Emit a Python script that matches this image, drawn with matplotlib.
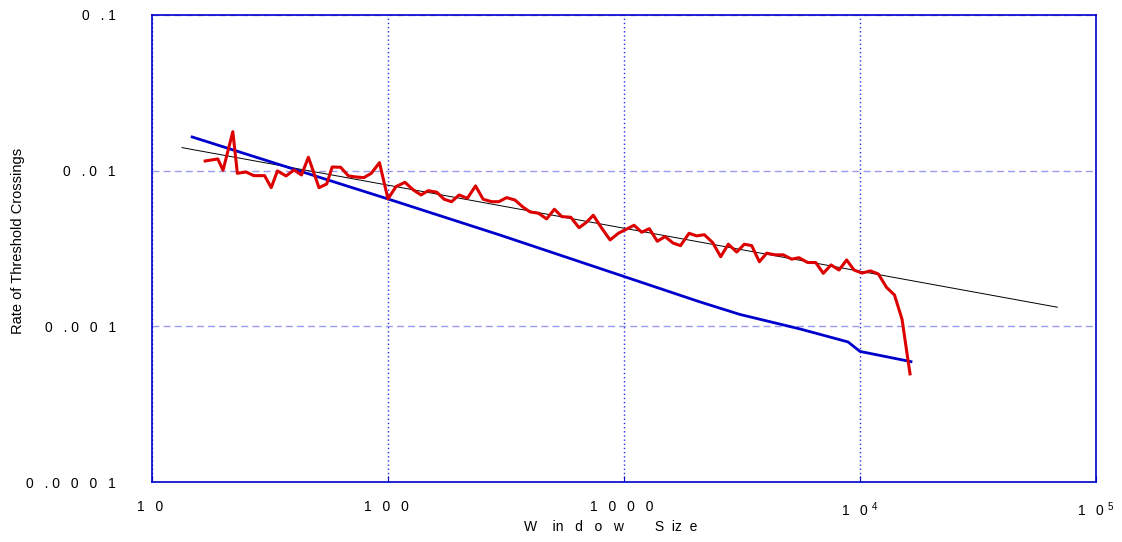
import matplotlib
matplotlib.use('Agg')
import matplotlib.pyplot as plt
from matplotlib.ticker import NullLocator

plt.rcParams['font.family'] = ['Liberation Sans', 'DejaVu Sans']
plt.rcParams['mathtext.fontset'] = 'custom'
plt.rcParams['mathtext.rm'] = 'Liberation Sans'
plt.rcParams['mathtext.it'] = 'Liberation Sans'

# measured rate of threshold crossings vs window size
window = [16.8, 19, 20, 22, 23, 25, 27, 30, 32, 34, 37, 40, 43, 46, 51, 55, 58, 63, 68, 73,
          79, 85, 92, 100, 108, 118, 128, 138, 148, 161, 173, 186, 200, 217, 235, 253, 275,
          295, 318, 345, 374, 400, 434, 470, 507, 545, 595, 645, 690, 741, 805, 873, 946,
          1027, 1103, 1189, 1280, 1384, 1492, 1618, 1736, 1886, 2033, 2189, 2376, 2569,
          2767, 3003, 3234, 3476, 3745, 4025, 4363, 4732, 5135, 5513, 6004, 6492, 6991,
          7537, 8147, 8781, 9432, 10200, 11080, 11960, 12950, 14000, 15070, 16290]
rate = [0.01154, 0.01189, 0.01006, 0.0178, 0.00962, 0.00981, 0.00929, 0.00929, 0.00778,
        0.00996, 0.00925, 0.0101, 0.00938, 0.01219, 0.00778, 0.00821, 0.01056, 0.01051,
        0.00925, 0.00911, 0.00902, 0.00962, 0.01126, 0.00658, 0.00789, 0.00842, 0.00752,
        0.00698, 0.00744, 0.00727, 0.00655, 0.00632, 0.00698, 0.00665, 0.00798, 0.00655,
        0.00632, 0.00632, 0.00671, 0.00648, 0.00582, 0.00543, 0.00533, 0.0049, 0.00565,
        0.00507, 0.00502, 0.0043, 0.00463, 0.00517, 0.00427, 0.00359, 0.00396, 0.00422,
        0.00446, 0.00402, 0.00424, 0.00352, 0.00377, 0.00342, 0.0033, 0.00396, 0.00381,
        0.00388, 0.00345, 0.0028, 0.00337, 0.003, 0.00337, 0.0033, 0.0026, 0.00295,
        0.00288, 0.00288, 0.0027, 0.00276, 0.00257, 0.00257, 0.00219, 0.00248, 0.0023,
        0.00267, 0.0023, 0.0022, 0.00227, 0.00217, 0.00178, 0.00159, 0.00111, 0.000495]

# reference curve (blue)
ref_window = [14.8, 100, 298, 1000, 2099, 3101, 5568, 8897, 10000, 16450]
ref_rate = [0.01646, 0.00658, 0.00386, 0.00209, 0.001435, 0.001192, 0.000962, 0.000794,
            0.00069, 0.000593]

# power-law fit (black)
fit_window = [13.4, 68560]
fit_rate = [0.01406, 0.001327]

x_ticks = [10, 100, 1000, 1e4, 1e5]
x_tick_labels = ['1\u2002 0 ', '1\u2002 0\u2002 0 ', '1\u2002 0\u2002 0\u2002 0 ',
                 '1\u2002 0 ${}^{4}$', '1\u2002 0 ${}^{5}$']
y_ticks = [1e-4, 1e-3, 1e-2, 1e-1]
y_tick_labels = ['0\u2002 . 0\u2002 0\u2002 0\u2002 1', '0\u2002 . 0\u2002 0\u2002 1',
                 '0\u2002 . 0\u2002 1', '0\u2002 . 1']

fig = plt.figure(figsize=(11.22, 5.42), dpi=100)
ax = fig.add_axes([152 / 1122, 1 - 482 / 542, 944 / 1122, 467 / 542])
ax.set_xscale('log')
ax.set_yscale('log')
ax.set_xlim(10, 1e5)
ax.set_ylim(1e-4, 0.1)

ax.plot(fit_window, fit_rate, color='black', linewidth=0.7, zorder=3)
ax.plot(ref_window, ref_rate, color='#0000cc', linewidth=2, zorder=4)
ax.plot(window, rate, color='#dd0000', linewidth=2.2, zorder=5)

ax.set_xticks(x_ticks, x_tick_labels)
ax.set_yticks(y_ticks, y_tick_labels)
ax.xaxis.set_minor_locator(NullLocator())
ax.yaxis.set_minor_locator(NullLocator())
ax.tick_params(axis='x', direction='in', length=4, color='#0000cc', pad=13, labelsize=10)
ax.tick_params(axis='y', direction='in', length=0, color='#0000cc', pad=26, labelsize=10)

ax.grid(axis='x', color='#2a2aee', linestyle=(0, (1, 2)), linewidth=1)
ax.grid(axis='y', color='#9a9aee', linestyle=(0, (5, 3)), linewidth=1)
ax.set_axisbelow(True)
for s in ax.spines.values():
    s.set_color('#0000cc')
    s.set_linewidth(1.2)

fig.text(611 / 1122, 1 - 527 / 542, 'W    in   d   o   w        S  iz  e', ha='center',
         va='center', fontsize=10)
fig.text(18 / 1122, 1 - 241 / 542, 'Rate of Threshold Crossings', rotation=90,
         ha='center', va='center', fontsize=10.5)

fig.savefig('out.png', dpi=100)
